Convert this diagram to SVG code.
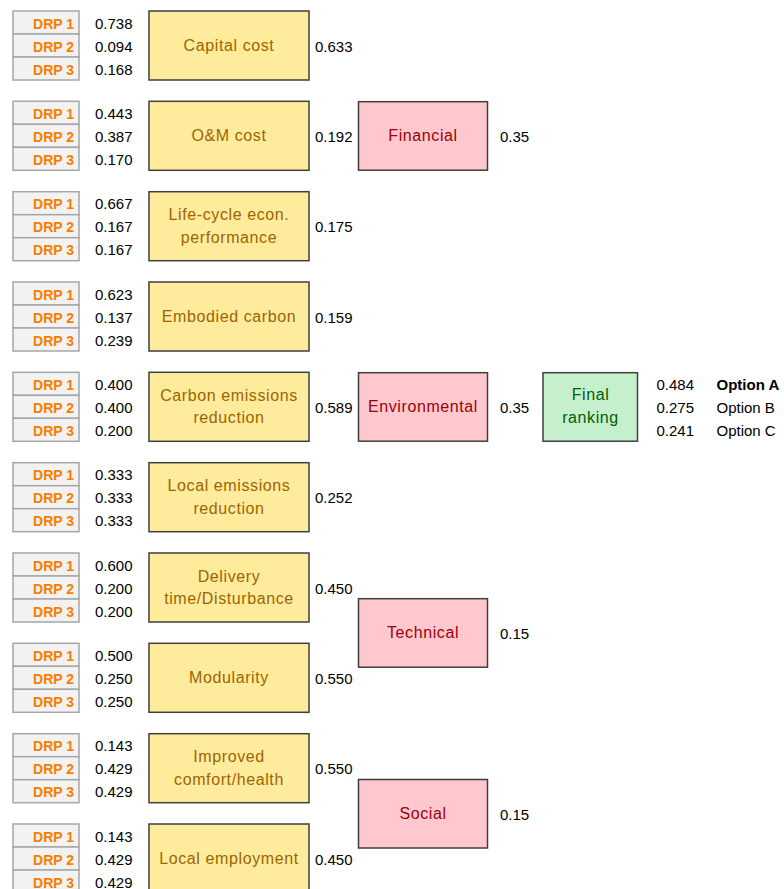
<svg xmlns="http://www.w3.org/2000/svg" width="784" height="889" viewBox="0 0 784 889">
<style>
.drp{fill:#f2f2f2;stroke:#a6a6a6;stroke-width:1.5}
.drpt{font-family:"Liberation Sans",Arial,sans-serif;font-weight:bold;font-size:14px;fill:#fa7d00;text-anchor:end}
.num{font-family:"Liberation Sans",Arial,sans-serif;font-size:15px;fill:#000}
.crit{fill:#ffeb9c;stroke:#3f3f3f;stroke-width:1.5}
.critt{font-family:"Liberation Sans",Arial,sans-serif;font-size:16px;letter-spacing:0.6px;fill:#9c6500;text-anchor:middle}
.cat{fill:#ffc7ce;stroke:#3f3f3f;stroke-width:1.5}
.catt{font-family:"Liberation Sans",Arial,sans-serif;font-size:16px;letter-spacing:0.6px;fill:#9c0006;text-anchor:middle}
.fin{fill:#c6efce;stroke:#3f3f3f;stroke-width:1.5}
.fint{font-family:"Liberation Sans",Arial,sans-serif;font-size:16px;letter-spacing:0.6px;fill:#006100;text-anchor:middle}
.opt{font-family:"Liberation Sans",Arial,sans-serif;font-size:15px;fill:#000}
</style>
<defs>
<g id="drpset">
<rect class="drp" x="13" y="0" width="66" height="23"/>
<rect class="drp" x="13" y="23" width="66" height="23"/>
<rect class="drp" x="13" y="46" width="66" height="23"/>
<text class="drpt" x="74" y="17.5">DRP 1</text>
<text class="drpt" x="74" y="40.5">DRP 2</text>
<text class="drpt" x="74" y="63.5">DRP 3</text>
</g>
</defs>
<g id="connectors"/>

<g id="capital-cost" transform="translate(0,11)">
<use href="#drpset"/>
<text class="num" x="95" y="17.5">0.738</text><text class="num" x="95" y="40.5">0.094</text><text class="num" x="95" y="63.5">0.168</text>
<rect class="crit" x="149" y="0" width="160" height="69"/>
<text class="critt" x="229" y="39.5">Capital cost</text>
<text class="num" x="315" y="40.5">0.633</text>
</g>

<g id="om-cost" transform="translate(0,101.3)">
<use href="#drpset"/>
<text class="num" x="95" y="17.5">0.443</text><text class="num" x="95" y="40.5">0.387</text><text class="num" x="95" y="63.5">0.170</text>
<rect class="crit" x="149" y="0" width="160" height="69"/>
<text class="critt" x="229" y="39.5">O&amp;M cost</text>
<text class="num" x="315" y="40.5">0.192</text>
</g>

<g id="life-cycle" transform="translate(0,191.7)">
<use href="#drpset"/>
<text class="num" x="95" y="17.5">0.667</text><text class="num" x="95" y="40.5">0.167</text><text class="num" x="95" y="63.5">0.167</text>
<rect class="crit" x="149" y="0" width="160" height="69"/>
<text class="critt" x="229" y="28.5">Life-cycle econ.</text>
<text class="critt" x="229" y="51">performance</text>
<text class="num" x="315" y="40.5">0.175</text>
</g>

<g id="embodied-carbon" transform="translate(0,282)">
<use href="#drpset"/>
<text class="num" x="95" y="17.5">0.623</text><text class="num" x="95" y="40.5">0.137</text><text class="num" x="95" y="63.5">0.239</text>
<rect class="crit" x="149" y="0" width="160" height="69"/>
<text class="critt" x="229" y="39.5">Embodied carbon</text>
<text class="num" x="315" y="40.5">0.159</text>
</g>

<g id="carbon-emissions" transform="translate(0,372.3)">
<use href="#drpset"/>
<text class="num" x="95" y="17.5">0.400</text><text class="num" x="95" y="40.5">0.400</text><text class="num" x="95" y="63.5">0.200</text>
<rect class="crit" x="149" y="0" width="160" height="69"/>
<text class="critt" x="229" y="28.5">Carbon emissions</text>
<text class="critt" x="229" y="51">reduction</text>
<text class="num" x="315" y="40.5">0.589</text>
</g>

<g id="local-emissions" transform="translate(0,462.7)">
<use href="#drpset"/>
<text class="num" x="95" y="17.5">0.333</text><text class="num" x="95" y="40.5">0.333</text><text class="num" x="95" y="63.5">0.333</text>
<rect class="crit" x="149" y="0" width="160" height="69"/>
<text class="critt" x="229" y="28.5">Local emissions</text>
<text class="critt" x="229" y="51">reduction</text>
<text class="num" x="315" y="40.5">0.252</text>
</g>

<g id="delivery-time" transform="translate(0,553)">
<use href="#drpset"/>
<text class="num" x="95" y="17.5">0.600</text><text class="num" x="95" y="40.5">0.200</text><text class="num" x="95" y="63.5">0.200</text>
<rect class="crit" x="149" y="0" width="160" height="69"/>
<text class="critt" x="229" y="28.5">Delivery</text>
<text class="critt" x="229" y="51">time/Disturbance</text>
<text class="num" x="315" y="40.5">0.450</text>
</g>

<g id="modularity" transform="translate(0,643.3)">
<use href="#drpset"/>
<text class="num" x="95" y="17.5">0.500</text><text class="num" x="95" y="40.5">0.250</text><text class="num" x="95" y="63.5">0.250</text>
<rect class="crit" x="149" y="0" width="160" height="69"/>
<text class="critt" x="229" y="39.5">Modularity</text>
<text class="num" x="315" y="40.5">0.550</text>
</g>

<g id="improved-comfort" transform="translate(0,733.7)">
<use href="#drpset"/>
<text class="num" x="95" y="17.5">0.143</text><text class="num" x="95" y="40.5">0.429</text><text class="num" x="95" y="63.5">0.429</text>
<rect class="crit" x="149" y="0" width="160" height="69"/>
<text class="critt" x="229" y="28.5">Improved</text>
<text class="critt" x="229" y="51">comfort/health</text>
<text class="num" x="315" y="40.5">0.550</text>
</g>

<g id="local-employment" transform="translate(0,824)">
<use href="#drpset"/>
<text class="num" x="95" y="17.5">0.143</text><text class="num" x="95" y="40.5">0.429</text><text class="num" x="95" y="63.5">0.429</text>
<rect class="crit" x="149" y="0" width="160" height="69"/>
<text class="critt" x="229" y="39.5">Local employment</text>
<text class="num" x="315" y="40.5">0.450</text>
</g>

<g id="financial">
<rect class="cat" x="358.5" y="101.7" width="129" height="68.5"/>
<text class="catt" x="423" y="141">Financial</text>
<text class="num" x="500" y="142">0.35</text>
</g>

<g id="environmental">
<rect class="cat" x="358.5" y="372.7" width="129" height="68.5"/>
<text class="catt" x="423" y="412">Environmental</text>
<text class="num" x="500" y="413">0.35</text>
</g>

<g id="technical">
<rect class="cat" x="358.5" y="598.7" width="129" height="68.5"/>
<text class="catt" x="423" y="638">Technical</text>
<text class="num" x="500" y="639">0.15</text>
</g>

<g id="social">
<rect class="cat" x="358.5" y="779.5" width="129" height="68.5"/>
<text class="catt" x="423" y="819">Social</text>
<text class="num" x="500" y="820">0.15</text>
</g>

<g id="final-ranking">
<rect class="fin" x="543" y="372.7" width="94.5" height="68.5"/>
<text class="fint" x="590.5" y="399.5">Final</text>
<text class="fint" x="590.5" y="423">ranking</text>
<text class="opt" x="656.5" y="390">0.484</text>
<text class="opt" x="656.5" y="413">0.275</text>
<text class="opt" x="656.5" y="436">0.241</text>
<text class="opt" x="716.5" y="390" font-weight="bold">Option A</text>
<text class="opt" x="716.5" y="413">Option B</text>
<text class="opt" x="716.5" y="436">Option C</text>
</g>
</svg>
